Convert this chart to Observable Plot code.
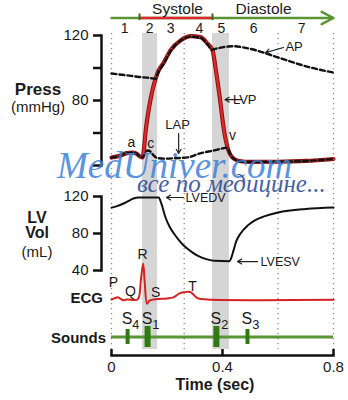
<!DOCTYPE html>
<html><head><meta charset="utf-8">
<script src="https://cdn.jsdelivr.net/npm/d3@7"></script>
<script src="https://cdn.jsdelivr.net/npm/@observablehq/plot@0.6"></script>
<style>
body{margin:0;background:#fff;}
#wrap{position:relative;width:348px;height:400px;overflow:hidden;font-family:"Liberation Sans",Arial,sans-serif;color:#1a1a1a;}
.t{position:absolute;white-space:nowrap;line-height:1;}
.c{transform:translate(-50%,-50%);text-align:center;}
.r{transform:translate(-100%,-50%);text-align:right;}
.b{font-weight:bold;}
</style></head><body><div id="wrap"></div>
<script>
// ---------- data ----------
const timeDomain = [0, 0.8];
const timeTicks = [0, 0.4, 0.8];
const periodNames = ["Systole", "Diastole"];
const periodLabelT = [0.238, 0.548];
const systoleSpan = [0.101, 0.364];
const phaseNames = ["1", "2", "3", "4", "5", "6", "7"];
const phaseT = [0.047, 0.137, 0.213, 0.317, 0.396, 0.512, 0.685];
const bandStart = [0.112, 0.364];
const bandEnd = [0.166, 0.425];
const gridT = [0, 0.262, 0.6, 0.8];

const pressTicks = [40, 60, 80, 100, 120];
const pressTickLabels = ["", "", "80", "", "120"];
const volTicks = [40, 80, 120];

const lvpT = [0, 0.03, 0.055, 0.075, 0.09, 0.105, 0.112, 0.118, 0.123, 0.13, 0.14, 0.15, 0.159, 0.17, 0.187, 0.213, 0.249, 0.285, 0.321, 0.346, 0.364, 0.375, 0.39, 0.405, 0.42, 0.435, 0.46, 0.5, 0.6, 0.7, 0.8];
const lvpP = [44.9, 46, 47.6, 48, 47.3, 45.3, 45, 52, 61, 70, 80, 88, 93.5, 98.5, 103, 111, 117, 119.6, 119, 115, 111, 100, 82, 62, 50, 45, 42.8, 42.2, 42.3, 42.8, 44];

const apT = [0, 0.05, 0.1, 0.14, 0.158, 0.17, 0.187, 0.213, 0.249, 0.285, 0.321, 0.346, 0.362, 0.37, 0.39, 0.42, 0.44, 0.47, 0.5, 0.6, 0.717, 0.8];
const apP = [96.6, 95.6, 94.5, 93.8, 93.3, 98, 102.5, 110.5, 116.8, 119.3, 118.6, 114.6, 111.2, 111.6, 112.4, 113.2, 113.4, 112.8, 111.8, 106.5, 100.3, 97.2];

const lapT = [0, 0.03, 0.055, 0.075, 0.09, 0.105, 0.112, 0.12, 0.13, 0.14, 0.15, 0.165, 0.19, 0.23, 0.274, 0.32, 0.37, 0.4, 0.415, 0.425, 0.435, 0.46, 0.5, 0.6, 0.7, 0.8];
const lapP = [44.9, 46, 47.6, 48, 47.3, 45.3, 45, 47.5, 49.2, 48.6, 46.5, 44.6, 44.2, 44.5, 45, 47.5, 49.3, 50.5, 51, 48, 45, 42.8, 42.2, 42.3, 42.8, 44];

const volT = [0, 0.02, 0.043, 0.06, 0.079, 0.097, 0.17, 0.18, 0.195, 0.21, 0.225, 0.245, 0.26, 0.285, 0.31, 0.345, 0.37, 0.425, 0.432, 0.44, 0.45, 0.465, 0.49, 0.515, 0.55, 0.6, 0.7, 0.8];
const volV = [108, 109.6, 112.4, 115, 117.8, 119, 119, 112, 97, 87, 80, 72, 67, 61, 56, 52, 50.5, 50, 54, 62, 72, 80, 88.5, 94, 98.5, 102.7, 106.5, 108];

const ecgT = [0, 0.01, 0.022, 0.033, 0.042, 0.055, 0.094, 0.1, 0.106, 0.114, 0.12, 0.128, 0.136, 0.152, 0.2, 0.223, 0.245, 0.26, 0.284, 0.3, 0.312, 0.345, 0.8];
const ecgMV = [0, 0.03, 0.06, 0.02, -0.02, 0, 0, 0.1, 0.55, 1.0, 0.45, -0.12, -0.04, 0, 0.03, 0.06, 0.17, 0.2, 0.21, 0.1, 0.03, 0, -0.01];
const ecgWaveNames = ["P", "Q", "R", "S", "T"];
const ecgWaveT = [0.007, 0.068, 0.112, 0.159, 0.292];
const ecgWaveMV = [0.47, 0.22, 1.25, 0.19, 0.36];

const soundNames = ["S4", "S1", "S2", "S3"];
const soundT = [0.058, 0.13, 0.378, 0.49];
const soundLoud = [false, true, true, false];

// annotations (time, value)
const pressNoteNames = ["AP", "LVP"];
const pressNoteTextT = [0.658, 0.48];
const pressNoteTextP = [113.2, 80.3];
const pressNoteFromT = [0.62, 0.468];
const pressNoteFromP = [112.6, 80.5];
const pressNoteToT = [0.555, 0.409];
const pressNoteToP = [109.5, 80.5];
const lapNote = {name: "LAP", t: 0.238, p: 64.8, arrowT: 0.242, fromP: 59.7, toP: 47.4};
const waveNames = ["a", "c", "v"];
const waveT = [0.072, 0.141, 0.436];
const waveP = [54.2, 53.5, 58.5];

const volNoteNames = ["LVEDV", "LVESV"];
const volNoteTextT = [0.267, 0.537];
const volNoteFromT = [0.259, 0.526];
const volNoteToT = [0.198, 0.454];
const volNoteV = [118.9, 49.7];

// ---------- helpers ----------
const zip = (xs, ys, kx, ky) => xs.map((x, i) => ({[kx]: x, [ky]: ys[i]}));
const lvp = zip(lvpT, lvpP, "t", "p");
const ap = zip(apT, apP, "t", "p");
const lap = zip(lapT, lapP, "t", "p");
const vol = zip(volT, volV, "t", "v");
const ecg = zip(ecgT, ecgMV, "t", "mv");
const bands = bandStart.map((s, i) => ({start: s, end: bandEnd[i]}));
const sounds = soundNames.map((n, i) => ({name: n, t: soundT[i], loud: soundLoud[i], row: "Sounds"}));
const pressNotes = pressNoteNames.map((n, i) => ({name: n, tt: pressNoteTextT[i], tp: pressNoteTextP[i], ft: pressNoteFromT[i], fp: pressNoteFromP[i], et: pressNoteToT[i], ep: pressNoteToP[i]}));
const waves = waveNames.map((n, i) => ({name: n, t: waveT[i], p: waveP[i]}));
const volNotes = volNoteNames.map((n, i) => ({name: n, tt: volNoteTextT[i], ft: volNoteFromT[i], et: volNoteToT[i], v: volNoteV[i]}));
const ecgWaves = ecgWaveNames.map((n, i) => ({name: n, t: ecgWaveT[i], mv: ecgWaveMV[i]}));

const GREEN = "#5a9434", DGREEN = "#2f7a12", RED = "#dc2828", DRED = "#8a1212", INK = "#1a1a1a";
const wrap = document.getElementById("wrap");
const style = {background: "transparent", fontFamily: "'Liberation Sans', Arial, sans-serif", fontSize: "15px", color: INK, overflow: "visible"};
const common = {width: 348, marginLeft: 101, insetLeft: 10, marginRight: 15, style};
const X = {domain: timeDomain, axis: null, label: null};
function place(svg, top) {
  svg.style.position = "absolute"; svg.style.left = "0px"; svg.style.top = top + "px";
  wrap.appendChild(svg);
}

// background: bands and dotted grid
place(Plot.plot({
  ...common, height: 400, marginTop: 33, marginBottom: 51, x: X,
  marks: [
    Plot.rect(bands, {x1: "start", x2: "end", fill: "#d5d5d5"}),
    Plot.ruleX(gridT, {stroke: "#8a8a8a", strokeWidth: 1.3, strokeDasharray: "1.3,3.7"})
  ]
}), 0);

// header
const headerArrow = [{from: timeDomain[0], to: timeDomain[1], row: "arrow"}];
const systole = [{from: systoleSpan[0], to: systoleSpan[1], row: "arrow"}];
place(Plot.plot({
  ...common, height: 40, marginTop: 0, marginBottom: 0, x: X,
  y: {type: "band", domain: ["label", "arrow", "phase"], range: [0, 34.5], padding: 0, axis: null, label: null},
  marks: [
    Plot.arrow(headerArrow, {x1: "from", x2: "to", y1: "row", y2: "row", stroke: GREEN, strokeWidth: 2.5, headLength: 8, headAngle: 55}),
    Plot.link(systole, {x1: "from", x2: "to", y1: "row", y2: "row", stroke: RED, strokeWidth: 2.5}),
    Plot.tickX(systoleSpan, {x: d => d, y: () => "arrow", stroke: "#3b6a1c", strokeWidth: 2, insetTop: 1.5, insetBottom: 3}),
    Plot.text(periodNames, {x: (d, i) => periodLabelT[i], y: () => "label", text: d => d, dy: 2, fontSize: 15.5, fill: INK}),
    Plot.text(phaseNames, {x: (d, i) => phaseT[i], y: () => "phase", text: d => d, fontSize: 14, fill: INK})
  ]
}), 0);

// pressure panel
const lineOpts = {x: "t", y: "p", curve: "monotone-x"};
place(Plot.plot({
  ...common, height: 175, marginTop: 35, marginBottom: 10, x: X,
  y: {domain: [40, 120], label: null},
  marks: [
    Plot.frame({anchor: "left", strokeWidth: 2.5, stroke: "#111"}),
    Plot.axisY({ticks: pressTicks, tickFormat: d => pressTickLabels[pressTicks.indexOf(d)], tickSize: 8, tickPadding: 5, strokeWidth: 2.5, stroke: "#111", fontSize: 15, label: null}),
    Plot.line(lvp, {...lineOpts, stroke: DRED, strokeWidth: 4.2}),
    Plot.line(lvp, {...lineOpts, stroke: RED, strokeWidth: 2.3}),
    Plot.line(ap, {...lineOpts, stroke: "#111", strokeWidth: 2.4, strokeDasharray: "5,3"}),
    Plot.line(lap, {...lineOpts, stroke: "#111", strokeWidth: 2.4, strokeDasharray: "5,3"}),
    Plot.arrow(pressNotes, {x1: "ft", y1: "fp", x2: "et", y2: "ep", stroke: "#222", strokeWidth: 1.2, headLength: 6}),
    Plot.text(pressNotes, {x: "tt", y: "tp", text: "name", textAnchor: d => d.name === "LVP" ? "start" : "middle", fontSize: 13, fill: INK}),
    Plot.arrow([lapNote], {x1: "arrowT", x2: "arrowT", y1: "fromP", y2: "toP", stroke: "#222", strokeWidth: 1.2, headLength: 6}),
    Plot.text([lapNote], {x: "t", y: "p", text: "name", fontSize: 13, fill: INK}),
    Plot.text(waves, {x: "t", y: "p", text: "name", fontSize: 14, fill: INK})
  ]
}), 0);

// volume panel
place(Plot.plot({
  ...common, height: 100, marginTop: 18, marginBottom: 8, x: X,
  y: {domain: [40, 120], label: null},
  marks: [
    Plot.frame({anchor: "left", strokeWidth: 2.5, stroke: "#111"}),
    Plot.axisY({ticks: volTicks, tickFormat: d => String(d), tickSize: 8, tickPadding: 5, strokeWidth: 2.5, stroke: "#111", fontSize: 15, label: null}),
    Plot.line(vol, {x: "t", y: "v", curve: "monotone-x", stroke: "#111", strokeWidth: 2}),
    Plot.arrow(volNotes, {x1: "ft", x2: "et", y1: "v", y2: "v", stroke: "#222", strokeWidth: 1.2, headLength: 6}),
    Plot.text(volNotes, {x: "tt", y: "v", text: "name", textAnchor: "start", fontSize: 12.5, fill: INK})
  ]
}), 178);

// ECG panel
place(Plot.plot({
  ...common, height: 72, marginTop: 0, marginBottom: 0, x: X,
  y: {domain: [-0.3, 1.5], range: [69.8, 5], axis: null, label: null},
  marks: [
    Plot.line(ecg, {x: "t", y: "mv", curve: "catmull-rom", stroke: "#d42222", strokeWidth: 2}),
    Plot.text(ecgWaves, {x: "t", y: "mv", text: "name", fontSize: 14, fill: INK})
  ]
}), 240);

// sounds + time axis panel
const soundSvg = Plot.plot({
  width: 348, marginLeft: 111, marginRight: 15, style, height: 90, marginTop: 0, marginBottom: 35,
  x: {domain: timeDomain, label: null},
  y: {type: "band", domain: ["Sounds"], range: [26, 47], padding: 0, axis: null, label: null},
  marks: [
    Plot.ruleY(["Sounds"], {y: d => d, x1: timeDomain[0], x2: timeDomain[1], stroke: GREEN, strokeWidth: 3}),
    Plot.tickX(sounds.filter(d => d.loud), {x: "t", y: "row", stroke: DGREEN, strokeWidth: 6}),
    Plot.tickX(sounds.filter(d => !d.loud), {x: "t", y: "row", stroke: DGREEN, strokeWidth: 4, insetTop: 3, insetBottom: 3}),
    Plot.text(sounds, {x: "t", y: "row", text: "name", dy: -18, dx: 3, fontSize: 16, fill: INK}),
    Plot.frame({anchor: "bottom", strokeWidth: 2.5, stroke: "#111"}),
    Plot.axisX({ticks: timeTicks, tickFormat: d => String(d), tickSize: -6, tickPadding: 12, strokeWidth: 2.5, stroke: "#111", fontSize: 15, label: null})
  ]
});
soundSvg.querySelectorAll('g[aria-label="text"] text').forEach(el => {
  const s = el.textContent;
  el.textContent = s[0];
  const ts = document.createElementNS("http://www.w3.org/2000/svg", "tspan");
  ts.setAttribute("dy", "5"); ts.setAttribute("font-size", "0.8em");
  ts.textContent = s.slice(1);
  el.appendChild(ts);
});
place(soundSvg, 300);

// left titles and axis title
const labels = [
  ["Press", 38, 89, "c b", 17], ["(mmHg)", 38, 106, "c", 15],
  ["LV", 37, 218, "c b", 16], ["Vol", 37, 233, "c b", 16], ["(mL)", 37, 251, "c", 15],
  ["ECG", 103, 297, "r b", 15], ["Sounds", 106, 337, "r b", 15],
  ["Time (sec)", 215, 385, "c b", 16]
];
for (const [txt, x, y, cls, fs] of labels) {
  const d = document.createElement("div");
  d.className = "t " + cls; d.textContent = txt;
  d.style.left = x + "px"; d.style.top = y + "px"; d.style.fontSize = fs + "px";
  wrap.appendChild(d);
}

// watermark
const wm1 = document.createElement("div");
wm1.className = "t"; wm1.textContent = "MedUniver.com";
Object.assign(wm1.style, {left: "57px", top: "147px", fontFamily: "'Liberation Serif', serif", fontStyle: "italic", fontSize: "37px", color: "#3f82d6", opacity: "0.85"});
wrap.appendChild(wm1);
const wm2 = document.createElement("div");
wm2.className = "t"; wm2.textContent = "все по медицине...";
Object.assign(wm2.style, {left: "137px", top: "171px", fontFamily: "'Liberation Serif', serif", fontStyle: "italic", fontSize: "25px", color: "#27468f", opacity: "0.85"});
wrap.appendChild(wm2);
</script></body></html>
